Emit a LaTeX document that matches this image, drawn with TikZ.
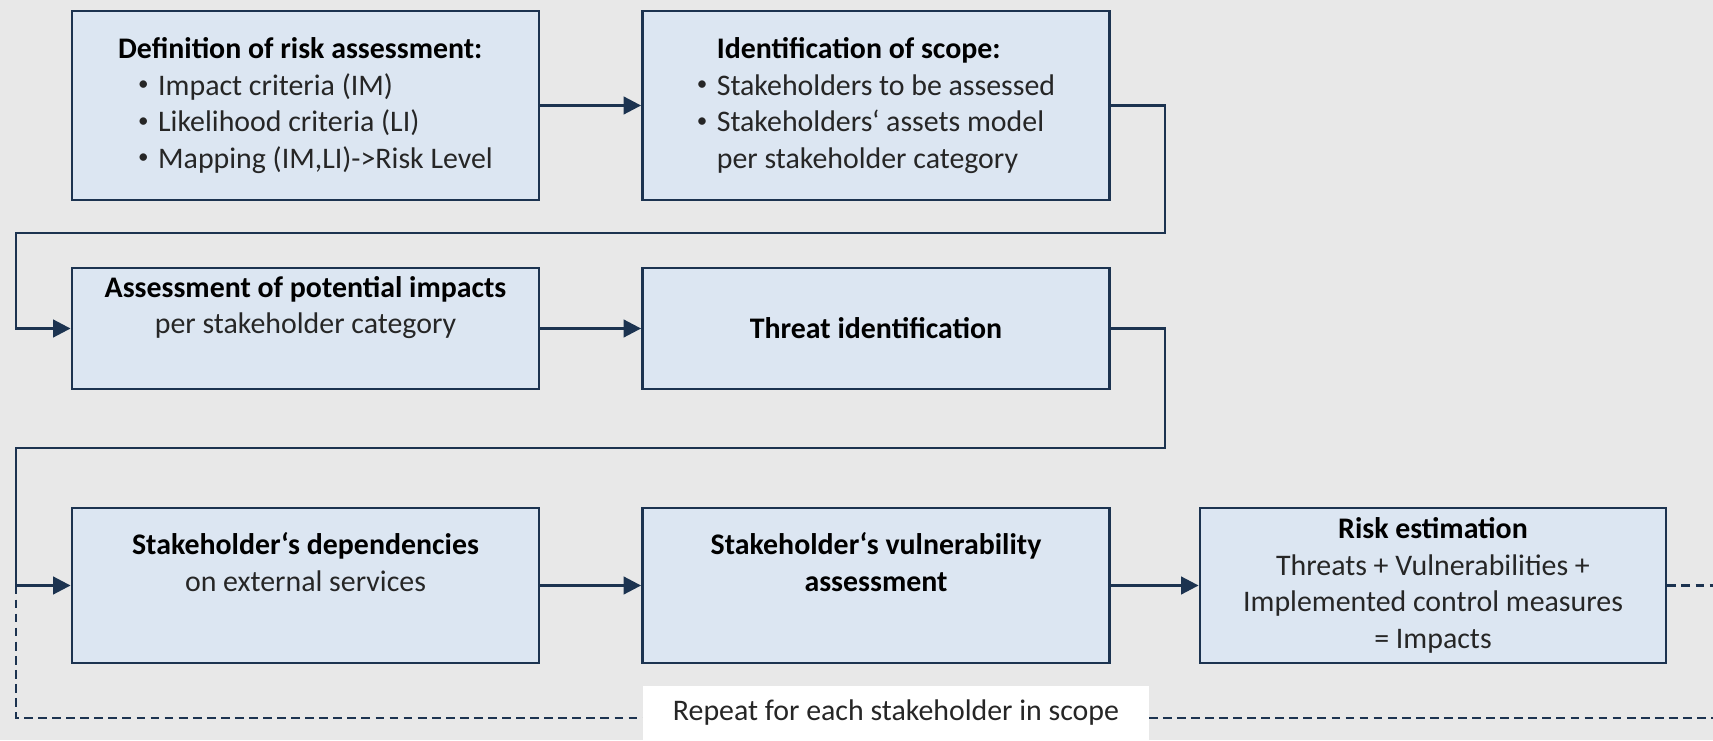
\documentclass[tikz,border=0pt]{standalone}
\usepackage{fontspec}
\setmainfont{Carlito}
\usetikzlibrary{arrows.meta}

\definecolor{bgGray}{HTML}{E8E8E8}
\definecolor{boxFill}{HTML}{DCE6F2}
\definecolor{navy}{HTML}{1C3350}
\definecolor{txt}{HTML}{262626}
\newcommand{\bul}{\makebox[0.4cm][l]{\raisebox{0.15em}{\fontsize{12}{12}\selectfont •}}}

\begin{document}
\begin{tikzpicture}[
        stepbox/.style={draw=navy, line width=1.6pt, fill=boxFill, minimum width=9.34cm,
            align=center, text=txt, inner sep=0pt, font=\fontsize{17}{20.75}\selectfont},
        flow/.style={navy, line width=1.6pt, -{Triangle[length=10pt,width=10pt]}},
        loop/.style={navy, line width=1.6pt, dash pattern=on 5pt off 3pt}
    ]
        \fill[bgGray] (0,0) rectangle (34.26,14.8);
        \useasboundingbox (0,0) rectangle (34.26,14.8);

        % first row
        \node[stepbox, minimum height=3.78cm, align=left] (def) at (6.11,12.69) {\textbf{\color{black}Definition of risk assessment:}\\
            \hspace*{0.4cm}\bul Impact criteria (IM)\\
            \hspace*{0.4cm}\bul Likelihood criteria (LI)\\
            \hspace*{0.4cm}\bul Mapping (IM,LI)->Risk Level};
        \node[stepbox, minimum height=3.78cm, align=left] (scope) at (17.52,12.69) {\hspace*{0.4cm}\textbf{\color{black}Identification of scope:}\\
            \bul Stakeholders to be assessed\\
            \bul Stakeholders‘ assets model\\
            \hspace*{0.4cm}per stakeholder category};

        % second row
        \node[stepbox, minimum height=2.42cm] (impact) at (6.11,8.23) {\textbf{\color{black}Assessment of potential impacts}\\per stakeholder category\\\strut};
        \node[stepbox, minimum height=2.42cm] (threat) at (17.52,8.23) {\textbf{\color{black}Threat identification}};

        % third row
        \node[stepbox, minimum height=3.1cm] (dep) at (6.11,3.09) {\textbf{\color{black}Stakeholder‘s dependencies}\\on external services\\\strut};
        \node[stepbox, minimum height=3.1cm] (vuln) at (17.52,3.09) {\textbf{\color{black}Stakeholder‘s vulnerability}\\\textbf{\color{black}assessment}\\\strut};
        \node[stepbox, minimum height=3.1cm, minimum width=9.32cm] (risk) at (28.66,3.09) {\textbf{\color{black}Risk estimation}\\Threats + Vulnerabilities +\\Implemented control measures\\= Impacts};

        \coordinate (turnA) at (23.3,10.14);
        \coordinate (turnB) at (0.32,10.14);
        \coordinate (turnC) at (23.3,5.84);
        \coordinate (turnD) at (0.32,5.84);
        \coordinate (loopCorner) at (0.32,0.44);
        \coordinate (loopEnd) at (34.26,0.44);

        % repeat loop
        \draw[loop] (dep.west -| loopCorner) -- (loopCorner) -- (loopEnd);
        \draw[loop] (risk.east) -- (risk.east -| loopEnd);

        \draw[flow] (def) -- (scope);
        \draw[flow] (scope.east) -| (turnA) -- (turnB) |- (impact.west);
        \draw[flow] (impact) -- (threat);
        \draw[flow] (threat.east) -| (turnC) -- (turnD) |- (dep.west);
        \draw[flow] (dep) -- (vuln);
        \draw[flow] (vuln) -- (risk);

        \node[fill=white, minimum width=10.12cm, minimum height=1.08cm, inner sep=0pt,
            text=txt, font=\fontsize{17}{20.75}\selectfont] (repeat) at (17.92,0.54) {Repeat for each stakeholder in scope};
    \end{tikzpicture}
\end{document}
